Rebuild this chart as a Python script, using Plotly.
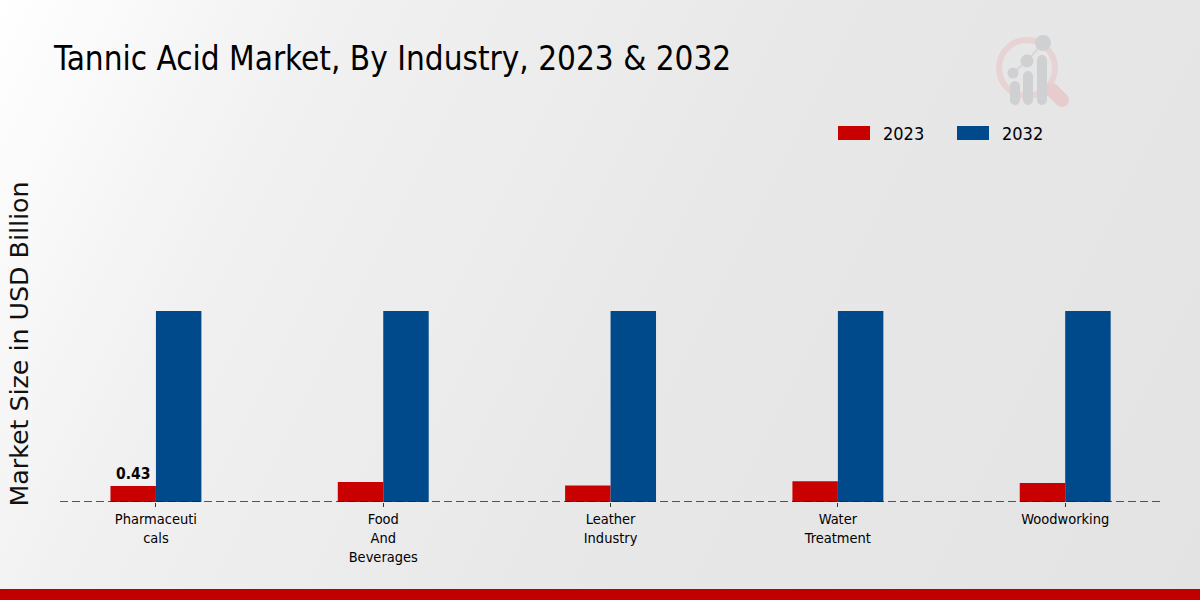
# -*- coding: utf-8 -*-
import urllib.parse
import plotly.graph_objs as go

industries = ["Pharmaceuti<br>cals", "Food<br>And<br>Beverages", "Leather<br>Industry", "Water<br>Treatment", "Woodworking"]
values_2023 = [0.43, 0.54, 0.44, 0.56, 0.51]
values_2032 = [5.13, 5.13, 5.13, 5.13, 5.13]
labels_2023 = ["0.43", "", "", "", ""]

RED = "#C80000"
BLUE = "#00498A"
W, H = 1200, 600

# background gradient and faded logo
bg_svg = f"""<svg xmlns="http://www.w3.org/2000/svg" width="{W}" height="{H}" viewBox="0 0 {W} {H}">
<defs><linearGradient id="g" gradientUnits="userSpaceOnUse" x1="0" y1="0" x2="{W}" y2="{H}">
<stop offset="0" stop-color="#ffffff"/><stop offset="0.22" stop-color="#f1f1f2"/>
<stop offset="0.55" stop-color="#e8e8e9"/><stop offset="1" stop-color="#e3e3e4"/></linearGradient></defs>
<rect width="{W}" height="{H}" fill="url(#g)"/>
<circle cx="1027" cy="68" r="28" fill="none" stroke="#e8d3d4" stroke-width="6"/>
<line x1="1052" y1="90" x2="1062" y2="100" stroke="#e8cccd" stroke-width="14" stroke-linecap="round"/>
<polyline points="1013,73 1027,61 1043,43" fill="none" stroke="#d6d7d9" stroke-width="2"/>
<circle cx="1013" cy="73" r="5.5" fill="#cfd0d2"/><circle cx="1027" cy="61" r="6.5" fill="#cfd0d2"/>
<circle cx="1043" cy="43" r="8" fill="#cfd0d2"/>
<rect x="1010" y="81" width="10" height="24" rx="5" fill="#cfd0d2"/>
<rect x="1023" y="71" width="10" height="34" rx="5" fill="#cfd0d2"/>
<rect x="1037" y="55" width="10" height="50" rx="5" fill="#cfd0d2"/>
</svg>"""
bg_uri = "data:image/svg+xml;charset=utf-8," + urllib.parse.quote(bg_svg)

trace_2023 = go.Bar(x=industries, y=values_2023, name="2023", marker=dict(color=RED, line=dict(width=0)),
                    text=labels_2023, textposition="outside", cliponaxis=False,
                    textfont=dict(family="DejaVu Sans Condensed", size=15.5, color="black", weight="bold"))
trace_2032 = go.Bar(x=industries, y=values_2032, name="2032", marker=dict(color=BLUE, line=dict(width=0)))

# plot area in pixels
l_px, r_px, t_px, b_px = 60, 1160, 186, 502


def px(x):
    return (x - l_px) / (r_px - l_px)


def py(y):
    return (b_px - y) / (b_px - t_px)


shapes = [
    # dashed baseline
    dict(type="line", xref="paper", yref="y", x0=0, x1=1, y0=0, y1=0, line=dict(color="#222222", width=1.5, dash="8px,4px"), layer="above"),
    # red band at the bottom
    dict(type="rect", xref="paper", yref="paper", x0=px(0), x1=px(W), y0=py(600), y1=py(589), fillcolor="#C00000", line=dict(width=0)),
    # legend swatches
    dict(type="rect", xref="paper", yref="paper", x0=px(838), x1=px(870), y0=py(140), y1=py(126), fillcolor=RED, line=dict(width=0)),
    dict(type="rect", xref="paper", yref="paper", x0=px(957), x1=px(989), y0=py(140), y1=py(126), fillcolor=BLUE, line=dict(width=0)),
]
legend_font = dict(family="DejaVu Sans Condensed", size=18, color="black")
annotations = [
    dict(text="2023", xref="paper", yref="paper", x=px(881), y=py(133), xanchor="left", yanchor="middle", showarrow=False, font=legend_font),
    dict(text="2032", xref="paper", yref="paper", x=px(1000), y=py(133), xanchor="left", yanchor="middle", showarrow=False, font=legend_font),
]

layout = go.Layout(
    width=W, height=H,
    title=dict(text="Tannic Acid Market, By Industry, 2023 &amp; 2032", x=54 / W, xanchor="left", xref="container",
               y=1 - 58 / H, yanchor="middle", font=dict(family="DejaVu Sans Condensed", size=33, color="black")),
    barmode="group", bargap=0.6, bargroupgap=0,
    showlegend=False,
    margin=dict(l=l_px, r=W - r_px, t=t_px, b=H - b_px, pad=0),
    paper_bgcolor="rgba(0,0,0,0)", plot_bgcolor="rgba(0,0,0,0)",
    xaxis=dict(range=[-0.422, 4.417], showgrid=False, zeroline=False, showline=False, ticks="outside", ticklen=4,
               tickcolor="#333333", tickwidth=1, tickfont=dict(family="DejaVu Sans Condensed", size=14.5, color="black")),
    yaxis=dict(range=[0, 8.49], showgrid=False, zeroline=False, showline=False, showticklabels=False, ticks="",
               title=dict(text="Market Size in USD Billion", standoff=23, font=dict(family="DejaVu Sans", size=25.3, color="#111111"))),
    images=[dict(source=bg_uri, xref="paper", yref="paper", x=px(0), y=py(0), sizex=W / (r_px - l_px), sizey=H / (b_px - t_px),
                 sizing="stretch", layer="below", xanchor="left", yanchor="top")],
    shapes=shapes, annotations=annotations,
)

fig = go.Figure(data=[trace_2023, trace_2032], layout=layout)
# page margin off, so the 1200x600 figure fills the window
fig.write_html("out.html", config=dict(displayModeBar=False),
               post_script="document.body.style.margin='0';document.documentElement.style.overflow='hidden';")
